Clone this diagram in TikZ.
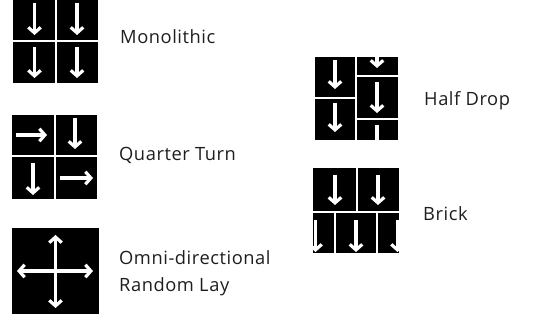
\documentclass[tikz,border=0pt]{standalone}
\usepackage{fontspec}
\setmainfont{Open Sans}[LetterSpace=3]
\usetikzlibrary{arrows.meta}
\definecolor{txt}{HTML}{1E1E1E}
\tikzset{
  ar/.style={white, line width=3.2pt, -{Straight Barb[length=5.5pt,width=12.5pt]}},
  dv/.style={white, line width=2pt},
  lab/.style={anchor=base west, inner sep=0pt, text=txt, font=\fontsize{18.3}{21}\selectfont}
}
\begin{document}
\begin{tikzpicture}[x=1pt,y=-1pt]
\useasboundingbox (0,0) rectangle (533,320);
% Monolithic
\fill[black] (13,0) rectangle (98,83);
\foreach \x in {34.5,77} {
  \draw[ar] (\x,3) -- (\x,35);
  \draw[ar] (\x,47) -- (\x,78);
}
\draw[dv] (56,0) -- (56,83);
\draw[dv] (13,41.5) -- (98,41.5);
% Quarter turn
\fill[black] (12,115) rectangle (97,199);
\draw[ar] (16,135) -- (47,135);
\draw[ar] (75,118) -- (75,149);
\draw[ar] (33,163) -- (33,195);
\draw[ar] (60,178) -- (93,178);
\draw[dv] (54.5,115) -- (54.5,199);
\draw[dv] (12,156.5) -- (97,156.5);
% Omni-directional
\fill[black] (12,228) rectangle (99,314);
\coordinate (oc) at (55.5,271);
\coordinate (ou) at (55.5,235);
\coordinate (od) at (55.5,308);
\coordinate (ol) at (17,271);
\coordinate (or) at (93,271);
\foreach \t in {ou,od,ol,or} \draw[ar] (oc) -- (\t);
% Half drop
\fill[black] (315,57) rectangle (398,140);
\begin{scope}
\clip (315,57) rectangle (398,140);
\draw[ar] (335,60) -- (335,89);
\draw[ar] (335,103) -- (335,132);
\draw[ar] (377,37) -- (377,68);
\draw[ar] (377,82) -- (377,113);
\draw[ar] (377,125) -- (377,156);
\draw[dv] (356,57) -- (356,140);
\draw[dv] (315,98) -- (356,98);
\draw[dv] (356,76) -- (398,76);
\draw[dv] (356,119) -- (398,119);
\end{scope}
% Brick
\fill[black] (313,168) rectangle (399,253);
\begin{scope}
\clip (313,168) rectangle (399,253);
\draw[ar] (335,175) -- (335,205);
\draw[ar] (378,175) -- (378,205);
\foreach \x in {315.5,356,397.5} \draw[ar] (\x,220) -- (\x,252);
\draw[dv] (357,168) -- (357,212);
\draw[dv] (313,212) -- (399,212);
\draw[dv] (335,212) -- (335,253);
\draw[dv] (377,212) -- (377,253);
\end{scope}
% Labels
\node[lab] (mono) at (120,44) {Monolithic};
\node[lab] (qt) at (119,161) {Quarter Turn};
\node[lab] (omni) at (119,265) {Omni-directional};
\node[lab] (rl) at (119,292) {Random Lay};
\node[lab] (hd) at (424,106) {Half Drop};
\node[lab] (br) at (423,221) {Brick};
\end{tikzpicture}
\end{document}
